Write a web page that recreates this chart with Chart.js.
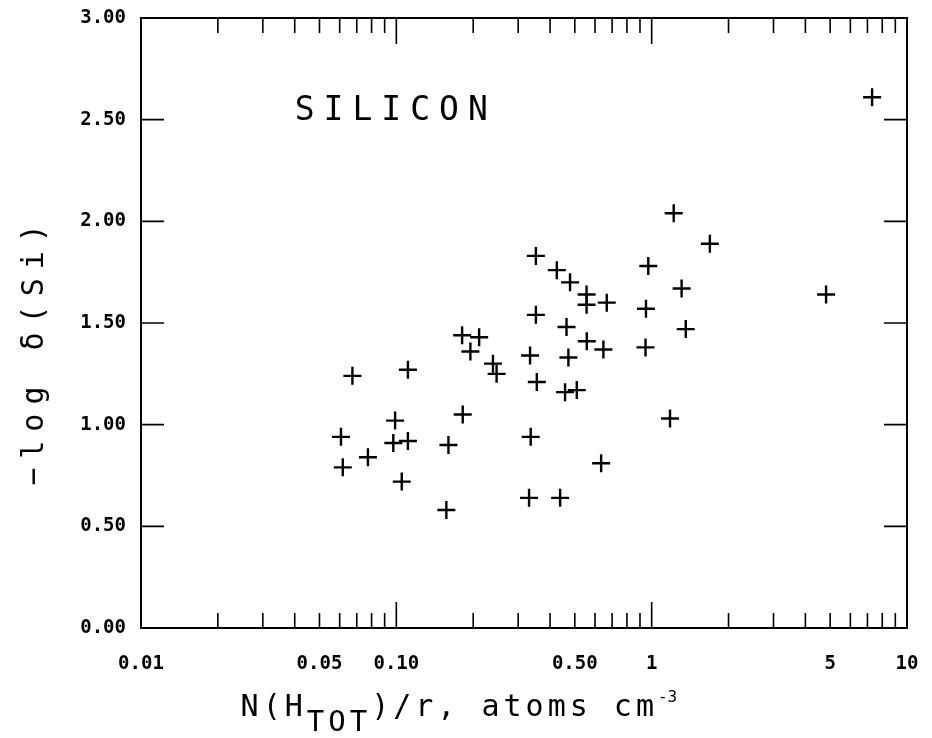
<!DOCTYPE html>
<html>
<head>
<meta charset="utf-8">
<script src="https://cdn.jsdelivr.net/npm/chart.js@4"></script>
<style>
  html, body { margin: 0; padding: 0; background: #fff; }
  canvas { display: block; }
</style>
</head>
<body>
<canvas id="chart" width="932" height="738"></canvas>
<script>
// N(Htot)/r values (log axis) and -log delta(Si)
const xVals = [7.30, 1.22, 1.69, 0.352, 0.425, 0.479, 0.556, 0.556, 0.667, 0.970,
               1.31, 4.82, 0.950, 1.36, 0.352, 0.464, 0.557, 0.647, 0.946, 0.334,
               0.472, 0.355, 0.458, 0.509, 1.18, 0.336, 0.634, 0.331, 0.438, 0.181,
               0.211, 0.195, 0.239, 0.247, 0.0673, 0.111, 0.182, 0.0989, 0.0607, 0.0973,
               0.111, 0.160, 0.0617, 0.0774, 0.105, 0.157];
const yVals = [2.61, 2.04, 1.89, 1.83, 1.76, 1.70, 1.64, 1.59, 1.60, 1.78,
               1.67, 1.64, 1.57, 1.47, 1.54, 1.48, 1.41, 1.37, 1.38, 1.34,
               1.33, 1.21, 1.16, 1.17, 1.03, 0.94, 0.81, 0.64, 0.64, 1.44,
               1.43, 1.36, 1.30, 1.25, 1.24, 1.27, 1.05, 1.02, 0.94, 0.91,
               0.92, 0.90, 0.79, 0.84, 0.72, 0.58];

const xTickValues = [0.01, 0.05, 0.1, 0.5, 1, 5, 10];
const xTickLabels = ["0.01", "0.05", "0.10", "0.50", "1", "5", "10"];
const yTickValues = [0, 0.5, 1, 1.5, 2, 2.5, 3];

const panelLabel = "SILICON";
const yTitle = "\u2212log \u03b4(Si)";
const xTitleParts = [["N(H", "base"], ["TOT", "sub"], [")/r, atoms cm", "base"], ["-3", "sup"]];

const mono = "'DejaVu Sans Mono', monospace";

const points = xVals.map((x, i) => ({ x: x, y: yVals[i] }));

// frame, inward tick marks and the titles, drawn against the chart scales
const framePlugin = {
  id: "frame",
  afterDatasetsDraw(chart) {
    const { ctx, chartArea: a, scales } = chart;
    const xs = scales.x, ys = scales.y;
    ctx.save();
    ctx.strokeStyle = "#000";
    ctx.fillStyle = "#000";
    ctx.lineWidth = 2;
    ctx.strokeRect(a.left, a.top, a.right - a.left, a.bottom - a.top);

    ctx.lineWidth = 1.6;
    ctx.beginPath();
    for (let d = -2; d < 1; d++) {
      for (let k = 1; k < 10; k++) {
        const v = k * Math.pow(10, d);
        if (v <= xs.min * 1.0001) continue;
        const px = xs.getPixelForValue(v);
        const len = k === 1 ? 26 : 15;
        ctx.moveTo(px, a.bottom); ctx.lineTo(px, a.bottom - len);
        ctx.moveTo(px, a.top); ctx.lineTo(px, a.top + len);
      }
    }
    yTickValues.forEach(v => {
      if (v <= ys.min || v >= ys.max) return;
      const py = ys.getPixelForValue(v);
      ctx.moveTo(a.left, py); ctx.lineTo(a.left + 23, py);
      ctx.moveTo(a.right, py); ctx.lineTo(a.right - 23, py);
    });
    ctx.stroke();

    // panel label
    ctx.font = "33px " + mono;
    ctx.letterSpacing = "9px";
    ctx.textAlign = "left";
    ctx.textBaseline = "alphabetic";
    ctx.fillText(panelLabel, xs.getPixelForValue(0.04), ys.getPixelForValue(2.5));

    // x title with subscript / superscript
    let cx = a.left + (a.right - a.left) * 0.13;
    const base = 716;
    ctx.letterSpacing = "4px";
    xTitleParts.forEach(([txt, kind]) => {
      let yy = base;
      if (kind === "base") ctx.font = "30px " + mono;
      if (kind === "sub") { ctx.font = "29px " + mono; yy = base + 15; }
      if (kind === "sup") { ctx.font = "16px " + mono; yy = base - 14; ctx.letterSpacing = "0px"; }
      ctx.fillText(txt, cx, yy);
      cx += ctx.measureText(txt).width;
    });

    // y title, rotated
    ctx.translate(43, a.top + (a.bottom - a.top) * 0.545);
    ctx.rotate(-Math.PI / 2);
    ctx.font = "30px " + mono;
    ctx.letterSpacing = "9px";
    ctx.textAlign = "center";
    ctx.fillText(yTitle, 0, 0);
    ctx.restore();
  }
};

new Chart(document.getElementById("chart"), {
  type: "scatter",
  data: {
    datasets: [{
      data: points,
      pointStyle: "cross",
      pointRadius: 9,
      pointHoverRadius: 9,
      borderColor: "#000",
      backgroundColor: "#000",
      borderWidth: 2.4
    }]
  },
  options: {
    responsive: false,
    animation: false,
    events: [],
    layout: { padding: { top: 18, right: 25, left: 0, bottom: 0 } },
    plugins: { legend: { display: false }, tooltip: { enabled: false } },
    scales: {
      x: {
        type: "logarithmic",
        min: 0.01,
        max: 10,
        grid: { display: false },
        border: { display: false },
        afterBuildTicks: s => { s.ticks = xTickValues.map(v => ({ value: v })); },
        afterFit: s => { s.height = 110; s.paddingLeft = 0; s.paddingRight = 0; },
        ticks: {
          autoSkip: false,
          maxRotation: 0,
          padding: 17,
          color: "#000",
          font: { family: mono, size: 19, weight: "bold" },
          callback: v => {
            const i = xTickValues.findIndex(t => Math.abs(t - v) / t < 1e-6);
            return i < 0 ? "" : xTickLabels[i];
          }
        }
      },
      y: {
        min: 0,
        max: 3,
        grid: { display: false },
        border: { display: false },
        afterBuildTicks: s => { s.ticks = yTickValues.map(v => ({ value: v })); },
        afterFit: s => { s.width = 141; s.paddingTop = 0; s.paddingBottom = 0; },
        ticks: {
          padding: 7,
          color: "#000",
          font: { family: mono, size: 19, weight: "bold" },
          callback: v => Number(v).toFixed(2)
        }
      }
    }
  },
  plugins: [framePlugin]
});
</script>
</body>
</html>
